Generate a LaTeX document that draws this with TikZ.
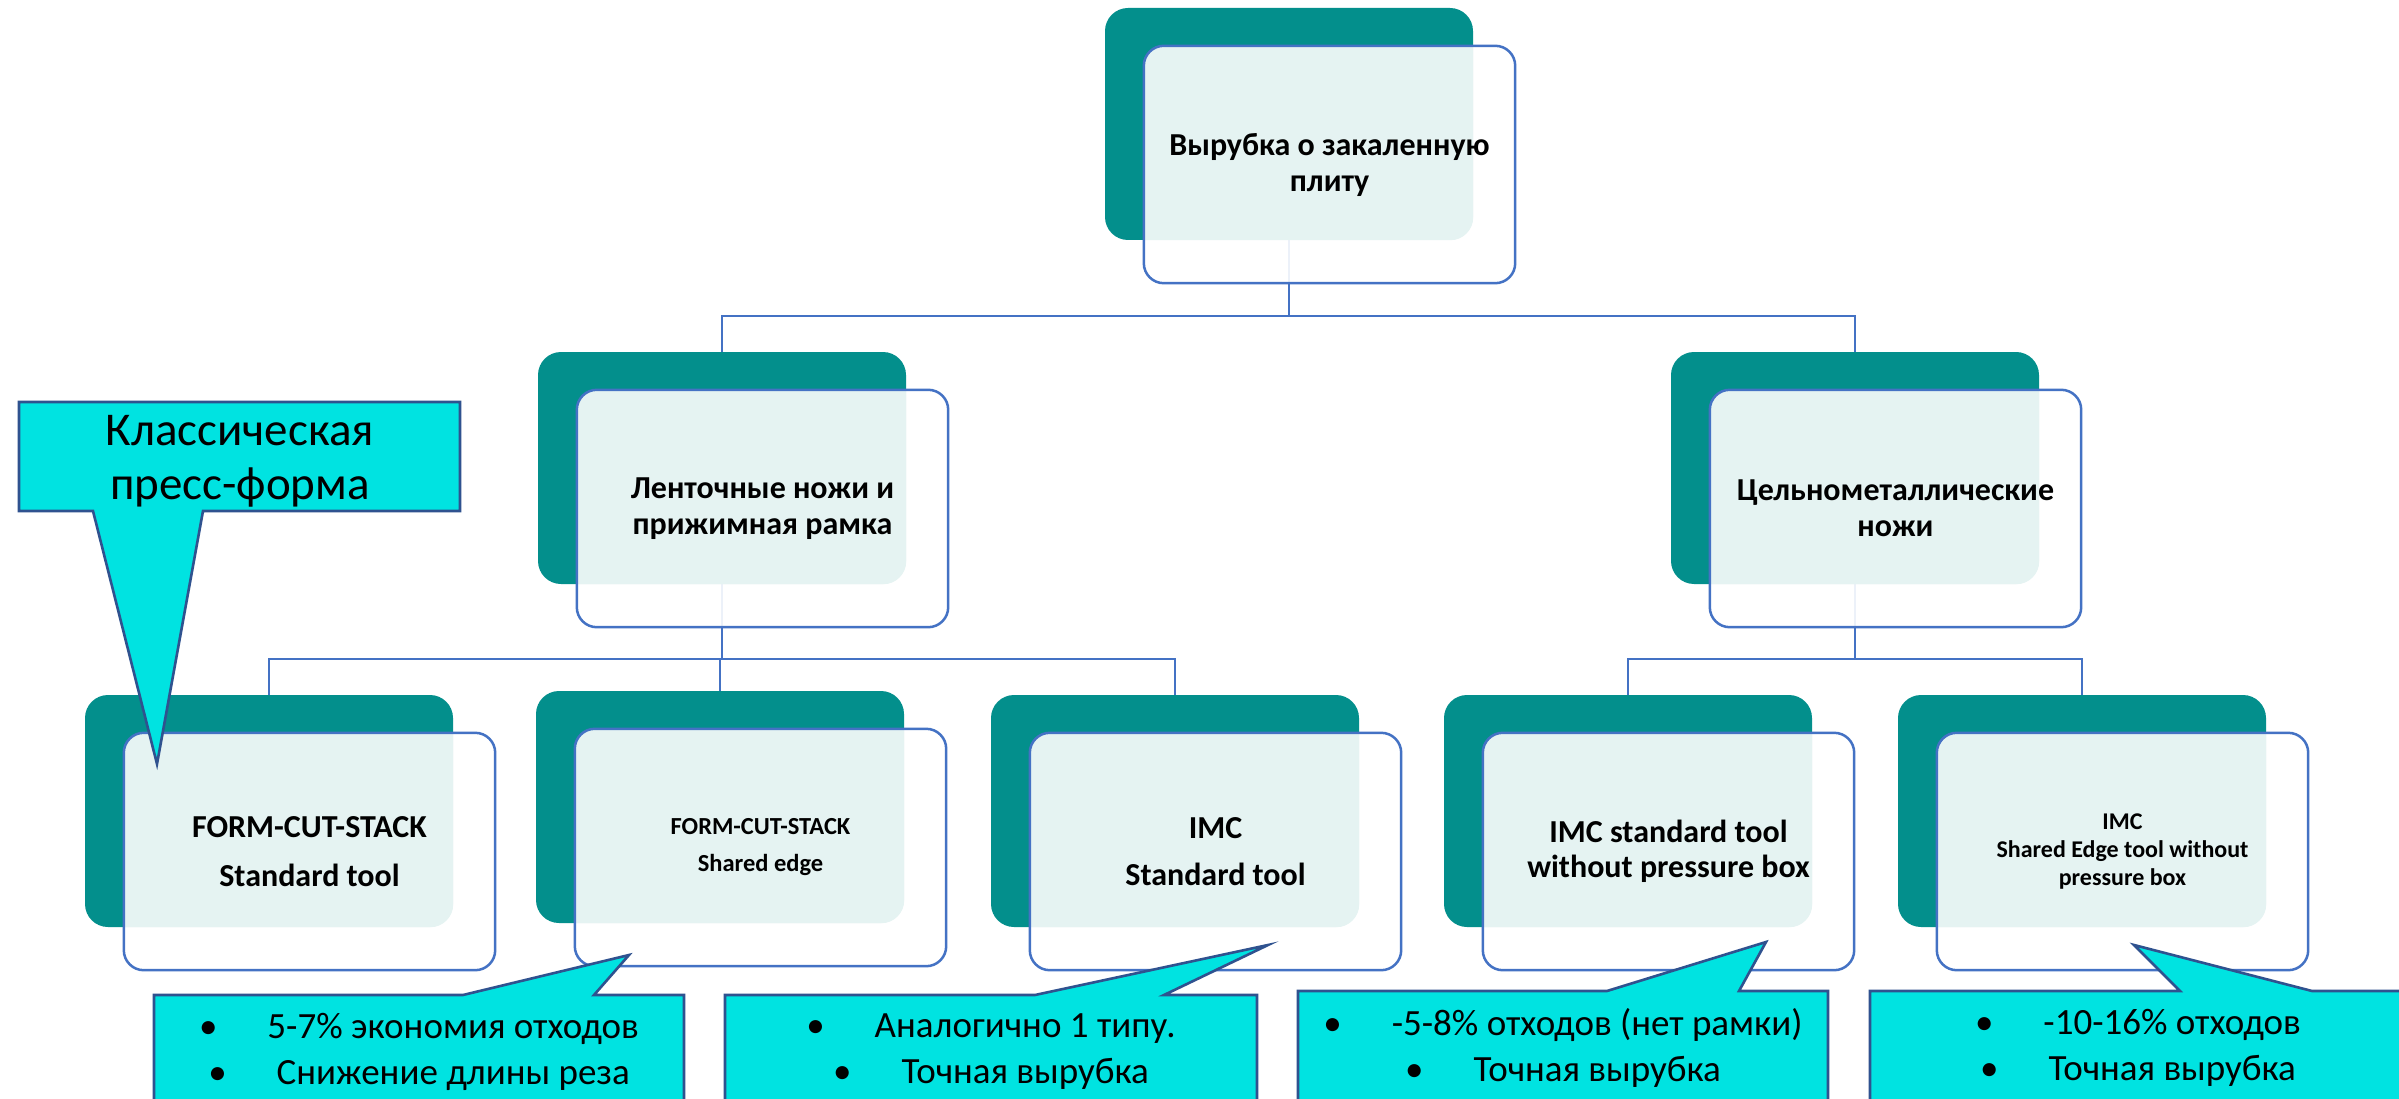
\documentclass[tikz,border=0pt]{standalone}
\usepackage{fontspec}
\setmainfont{Carlito}
\usetikzlibrary{calc}
\definecolor{tealc}{HTML}{038F8C}
\definecolor{lightc}{HTML}{E5F3F2}
\definecolor{linec}{HTML}{4472C4}
\definecolor{cyanc}{HTML}{00E3E1}
\definecolor{darkc}{HTML}{2F528F}
\pgfdeclarelayer{bg}
\pgfsetlayers{bg,main}
\tikzset{
  tealbox/.style={fill=tealc, rounded corners=23pt, minimum width=368pt, minimum height=232pt, inner sep=0pt},
  outbox/.style={fill=white, fill opacity=0.9, rounded corners=20pt, minimum width=371pt, minimum height=237pt, inner sep=0pt},
  outline/.style={draw=linec, line width=2.5pt, rounded corners=20pt},
  boxtext/.style={align=center, inner sep=0pt, text=black},
  conn/.style={draw=linec, line width=2.5pt},
  callout/.style={fill=cyanc, draw=darkc, line width=2.6pt, line join=miter},
  ctext/.style={align=center, inner sep=0pt, font=\fontsize{37}{46}\selectfont},
}
\newcommand\stackbox[5]{%
  \node[tealbox] (t#1) at (#2+184,#3+116) {};
  \node[outbox] (o#1) at (#2+224.5,#3+156.5) {};
  \begin{scope}
    \clip[rounded corners=20pt] (o#1.south west) rectangle (o#1.north east);
    \fill[lightc, rounded corners=23pt] (t#1.south west) rectangle (t#1.north east);
  \end{scope}
  \draw[outline] (o#1.south west) rectangle (o#1.north east);
  \node[boxtext, font=#4] (x#1) at (o#1.center) {#5};
}
\newcommand\bl{•\hspace{50pt}}
\begin{document}
\begin{tikzpicture}[x=1pt,y=-1pt]
\useasboundingbox (0,0) rectangle (2399,1099);
\clip (0,0) rectangle (2399,1099);
\coordinate (y1) at (0,316);
\coordinate (y2) at (0,659);

\stackbox{0}{1105}{8}{\bfseries\fontsize{32}{36}\selectfont}{Вырубка о закаленную\\плиту}
\stackbox{L}{538}{352}{\bfseries\fontsize{32}{36}\selectfont}{Ленточные ножи и\\прижимная рамка}
\stackbox{R}{1671}{352}{\bfseries\fontsize{32}{36}\selectfont}{Цельнометаллические\\ножи}
\stackbox{a}{85}{695}{\bfseries\fontsize{32}{37}\selectfont}{FORM-CUT-STACK\\[12pt]Standard tool}
\stackbox{b}{536}{691}{\bfseries\fontsize{24.5}{37}\selectfont}{FORM-CUT-STACK\\Shared edge}
\stackbox{c}{991}{695}{\bfseries\fontsize{32}{37}\selectfont}{IMC\\[10pt]Standard tool}
\stackbox{d}{1444}{695}{\bfseries\fontsize{32}{35}\selectfont}{IMC standard tool\\without pressure box}
\stackbox{e}{1898}{695}{\bfseries\fontsize{24}{28}\selectfont}{IMC\\Shared Edge tool without\\pressure box}

\begin{pgfonlayer}{bg}
  \fill[white] (0,0) rectangle (2399,1099);
  \draw[conn] (t0.south) -- (t0.south |- y1) -| (tL.north);
  \draw[conn] (t0.south |- y1) -| (tR.north);
  \draw[conn] (tL.south) -- (tL.south |- y2) -| (ta.north);
  \draw[conn] (tL.south |- y2) -| (tb.north);
  \draw[conn] (tL.south |- y2) -| (tc.north);
  \draw[conn] (tR.south) -- (tR.south |- y2) -| (td.north);
  \draw[conn] (tR.south |- y2) -| (te.north);
\end{pgfonlayer}

% callout: classic press form
\draw[callout] (19,402) -- (460,402) -- (460,511) -- (203,511) -- (157,764) -- (93,511) -- (19,511) -- cycle;
\node[boxtext, font=\fontsize{47}{54}\selectfont] (k) at (240,461) {Классическая\\пресс-форма};

% bottom callouts
\draw[callout] (154,995) -- (463,995) -- (629,955) -- (594,995) -- (684,995) -- (684,1140) -- (154,1140) -- cycle;
\node[ctext] (c1) at (419,1052) {\bl 5-7\% экономия отходов\\\bl Снижение длины реза};

\draw[callout] (725,995) -- (1035,995) -- (1268,945) -- (1164,995) -- (1257,995) -- (1257,1140) -- (725,1140) -- cycle;
\node[ctext] (c2) at (991,1052) {\bl Аналогично 1 типу.\\\bl Точная вырубка};

\draw[callout] (1298,991) -- (1607,991) -- (1766,942) -- (1739,991) -- (1828,991) -- (1828,1140) -- (1298,1140) -- cycle;
\node[ctext] (c3) at (1563,1048) {\bl -5-8\% отходов (нет рамки)\\\bl Точная вырубка};

\draw[callout] (1870,991) -- (2180,991) -- (2134,945) -- (2312,991) -- (2406,991) -- (2406,1140) -- (1870,1140) -- cycle;
\node[ctext] (c4) at (2138,1048) {\bl -10-16\% отходов\\\bl Точная вырубка};
\end{tikzpicture}
\end{document}
